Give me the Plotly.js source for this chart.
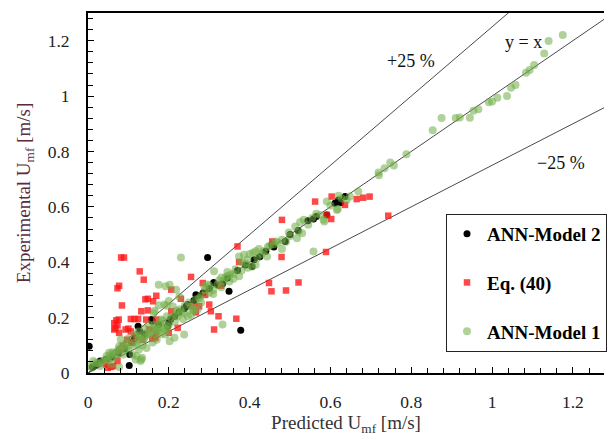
<!DOCTYPE html>
<html>
<head>
<meta charset="utf-8">
<script src="https://cdn.plot.ly/plotly-3.0.1.min.js"></script>
<style>html,body{margin:0;padding:0;background:#fff}#chart{width:607px;height:436px}</style>
</head>
<body>
<div id="chart"></div>
<script>
// ---- data (predicted, experimental) ----
const seriesNames = ["ANN-Model 2", "Eq. (40)", "ANN-Model 1"];

const model2Points = [
[0.003,0.097],[0.011,0.022],[0.020,0.030],[0.030,0.043],[0.045,0.050],[0.060,0.060],[0.075,0.073],[0.090,0.088],
[0.102,0.027],[0.103,0.067],[0.108,0.111],[0.115,0.125],[0.124,0.169],[0.128,0.150],[0.140,0.140],[0.157,0.193],
[0.159,0.187],[0.175,0.175],[0.197,0.169],[0.200,0.182],[0.205,0.195],[0.215,0.205],[0.225,0.220],[0.238,0.232],
[0.243,0.241],[0.247,0.247],[0.262,0.262],[0.267,0.283],[0.273,0.279],[0.285,0.290],[0.296,0.417],[0.300,0.305],
[0.311,0.327],[0.322,0.318],[0.333,0.322],[0.345,0.343],[0.349,0.295],[0.370,0.370],[0.378,0.154],[0.390,0.390],
[0.406,0.385],[0.411,0.409],[0.425,0.420],[0.440,0.440],[0.455,0.463],[0.460,0.455],[0.488,0.475],[0.500,0.500],
[0.520,0.515],[0.544,0.550],[0.558,0.556],[0.565,0.565],[0.591,0.571],[0.611,0.613],[0.620,0.625],[0.636,0.637],[0.625,0.615]
];

const eq40Points = [
[0.082,0.417],[0.089,0.417],[0.128,0.367],[0.138,0.337],[0.077,0.315],[0.073,0.306],[0.084,0.244],[0.169,0.279],
[0.148,0.268],[0.142,0.266],[0.161,0.259],[0.132,0.223],[0.148,0.226],[0.106,0.195],[0.115,0.195],[0.124,0.195],
[0.076,0.193],[0.070,0.190],[0.065,0.180],[0.068,0.162],[0.073,0.172],[0.065,0.157],[0.077,0.145],[0.093,0.157],
[0.100,0.160],[0.106,0.150],[0.152,0.157],[0.144,0.193],[0.169,0.193],[0.255,0.347],[0.259,0.241],[0.206,0.301],
[0.222,0.163],[0.200,0.145],[0.159,0.124],[0.087,0.097],[0.081,0.085],[0.062,0.025],[0.049,0.019],[0.073,0.043],
[0.044,0.031],[0.057,0.022],[0.167,0.127],[0.120,0.130],[0.135,0.120],[0.370,0.457],[0.374,0.401],[0.284,0.325],
[0.329,0.315],[0.275,0.241],[0.300,0.247],[0.304,0.223],[0.323,0.205],[0.267,0.219],[0.367,0.196],[0.206,0.223],
[0.230,0.268],[0.312,0.157],[0.169,0.148],[0.480,0.553],[0.479,0.419],[0.448,0.325],[0.521,0.327],[0.454,0.295],
[0.490,0.298],[0.589,0.437],[0.562,0.619],[0.603,0.637],[0.636,0.607],[0.665,0.628],[0.681,0.633],[0.697,0.637],
[0.591,0.571],[0.602,0.556],[0.743,0.568],[0.456,0.475],[0.290,0.282],[0.097,0.120],[0.110,0.110]
];

const model1Points = [
// upper range
[1.175,1.221],[1.140,1.199],[1.129,1.154],[1.104,1.112],[1.093,1.094],[1.084,1.084],[1.058,1.040],[1.047,1.030],
[1.037,1.000],[1.013,0.994],[1.000,0.980],[0.992,0.978],[0.966,0.952],[0.954,0.947],[0.945,0.922],[0.920,0.923],
[0.910,0.921],[0.875,0.921],[0.853,0.877],[0.788,0.790],[0.757,0.749],[0.748,0.760],[0.734,0.739],[0.719,0.724],
[0.720,0.714],[0.669,0.655],[0.648,0.637],[0.620,0.640],[0.618,0.592],[0.591,0.619],[0.616,0.589],[0.628,0.630],
[0.640,0.625],[0.600,0.605],[0.583,0.553],[0.575,0.571],[0.585,0.547],[0.534,0.553],[0.525,0.545],[0.530,0.505],
[0.513,0.529],[0.521,0.511],[0.497,0.507],[0.517,0.487],[0.480,0.481],[0.470,0.470],[0.460,0.465],[0.450,0.460],
[0.445,0.455],[0.480,0.448],[0.423,0.448],[0.415,0.440],[0.408,0.434],[0.443,0.421],[0.419,0.415],[0.558,0.439],
[0.406,0.385],[0.430,0.430],[0.500,0.495],[0.555,0.560],[0.565,0.575],[0.545,0.535],[0.490,0.474],[0.465,0.475],
[0.435,0.440],[0.415,0.391],
// middle range
[0.230,0.417],[0.202,0.319],[0.218,0.301],[0.226,0.275],[0.312,0.367],[0.345,0.350],[0.352,0.355],[0.360,0.358],
[0.374,0.421],[0.386,0.427],[0.400,0.430],[0.390,0.395],[0.374,0.349],[0.288,0.313],[0.295,0.320],[0.267,0.265],
[0.258,0.229],[0.262,0.225],[0.238,0.217],[0.222,0.205],[0.247,0.205],[0.271,0.229],[0.333,0.175],[0.238,0.139],
[0.214,0.127],[0.197,0.169],[0.202,0.115],[0.175,0.319],[0.192,0.313],[0.194,0.243],[0.189,0.247],[0.200,0.260],
[0.210,0.240],[0.228,0.230],[0.250,0.255],[0.280,0.280],[0.290,0.300],[0.300,0.290],[0.310,0.300],[0.320,0.320],
[0.325,0.335],[0.335,0.330],[0.340,0.345],[0.300,0.315],[0.275,0.270],[0.255,0.240],[0.240,0.245],[0.230,0.220],
[0.220,0.225],[0.215,0.210],[0.205,0.200],[0.195,0.205],[0.185,0.190],[0.180,0.180],[0.170,0.170],[0.165,0.175],
[0.160,0.160],[0.175,0.150],[0.190,0.160],[0.200,0.175],[0.215,0.185],[0.235,0.195],[0.255,0.210],[0.280,0.255],
[0.310,0.285],[0.330,0.310],[0.350,0.330],[0.360,0.340],[0.380,0.370],[0.395,0.380],[0.395,0.410],[0.380,0.400],
[0.365,0.375],[0.345,0.365],[0.330,0.345],[0.163,0.217],[0.180,0.193],[0.171,0.157],[0.196,0.157],[0.192,0.139],
// lower range
[0.005,0.025],[0.010,0.020],[0.013,0.043],[0.020,0.037],[0.025,0.035],[0.030,0.025],[0.040,0.045],[0.046,0.061],
[0.050,0.050],[0.060,0.055],[0.065,0.070],[0.070,0.060],[0.080,0.080],[0.087,0.067],[0.090,0.095],[0.100,0.090],
[0.105,0.100],[0.110,0.067],[0.120,0.061],[0.132,0.049],[0.115,0.110],[0.125,0.120],[0.130,0.135],[0.140,0.130],
[0.145,0.145],[0.150,0.140],[0.155,0.150],[0.135,0.100],[0.145,0.090],[0.160,0.110],[0.170,0.120],[0.150,0.175],
[0.140,0.160],[0.125,0.150],[0.115,0.140],[0.100,0.125],[0.095,0.110],[0.085,0.100],[0.075,0.085],[0.060,0.075],
[0.035,0.040],[0.055,0.065],[0.120,0.100],[0.165,0.140],[0.175,0.160],[0.185,0.165],[0.180,0.140],[0.151,0.139],
[0.138,0.121],[0.126,0.127],[0.081,0.121],[0.077,0.097],[0.093,0.085],[0.126,0.085],[0.134,0.055],[0.118,0.049],
[0.069,0.073],[0.052,0.073],[0.044,0.049],[0.057,0.031],[0.077,0.022],[0.130,0.043],[0.175,0.245],[0.165,0.225]
];

// reference lines: y = x and the +/-25 % bands
const refLineX = [0, 1.3];
const refSlopes = [1.0, 1.25, 0.75];

const annotationTexts = ["+25 %", "y = x", "\u221225 %"];
const annotationX = [0.799, 1.079, 1.170];
const annotationY = [1.126, 1.195, 0.759];

// ---- build ----
const serif = "Liberation Serif, Times New Roman, serif";
const xs = p => p.map(d => d[0]);
const ys = p => p.map(d => d[1]);

const traces = [];
refSlopes.forEach(s => {
  traces.push({x: refLineX, y: refLineX.map(v => v * s), mode: "lines", type: "scatter",
    line: {color: "#4a4a4a", width: 1}, showlegend: false, hoverinfo: "skip"});
});
traces.push({x: xs(model2Points), y: ys(model2Points), name: seriesNames[0], legendgroup: "a",
  mode: "markers", type: "scatter", marker: {symbol: "circle", size: 7, color: "#000"}});
traces.push({x: xs(eq40Points), y: ys(eq40Points), name: seriesNames[1], legendgroup: "b",
  mode: "markers", type: "scatter", marker: {symbol: "square", size: 6.5, color: "rgba(255,20,20,0.78)"}});
traces.push({x: xs(model1Points), y: ys(model1Points), name: seriesNames[2], legendgroup: "c",
  mode: "markers", type: "scatter", marker: {symbol: "circle", size: 8, color: "rgba(112,173,71,0.55)"}});

const axisCommon = {
  showline: true, linecolor: "#000", linewidth: 2, showgrid: false, zeroline: false,
  ticks: "inside", ticklen: 6, tickwidth: 1, tickcolor: "#000", dtick: 0.2, tick0: 0,
  minor: {ticks: "inside", ticklen: 5, tickwidth: 1, tickcolor: "#000", dtick: 0.04, showgrid: false},
  tickfont: {family: serif, size: 17.5, color: "#222"}
};

const layout = {
  width: 607, height: 436,
  margin: {l: 88, r: 0, t: 13, b: 62.5},
  paper_bgcolor: "#fff", plot_bgcolor: "#fff",
  showlegend: true,
  xaxis: Object.assign({}, axisCommon, {range: [0, 1.277], mirror: true, ticklabelstandoff: 12,
    title: {text: "Predicted U<sub>mf</sub> [m/s]", font: {family: serif, size: 19, color: "#333"}, standoff: 8}}),
  yaxis: Object.assign({}, axisCommon, {range: [0, 1.3], ticklabelstandoff: 13,
    title: {text: "Experimental U<sub>mf</sub> [m/s]", font: {family: serif, size: 19, color: "#5a2a40"}, standoff: 12}}),
  legend: {x: 0.694, y: 0.442, xanchor: "left", yanchor: "top", bgcolor: "#fff",
    bordercolor: "#222", borderwidth: 1, tracegroupgap: 21,
    font: {family: serif, size: 19, color: "#000", weight: "bold"}},
  annotations: annotationTexts.map((t, i) => ({x: annotationX[i], y: annotationY[i], xref: "x", yref: "y",
    text: t, showarrow: false, font: {family: serif, size: 18, color: "#111"}}))
};

Plotly.newPlot("chart", traces, layout, {displayModeBar: false, staticPlot: true});
</script>
</body>
</html>
